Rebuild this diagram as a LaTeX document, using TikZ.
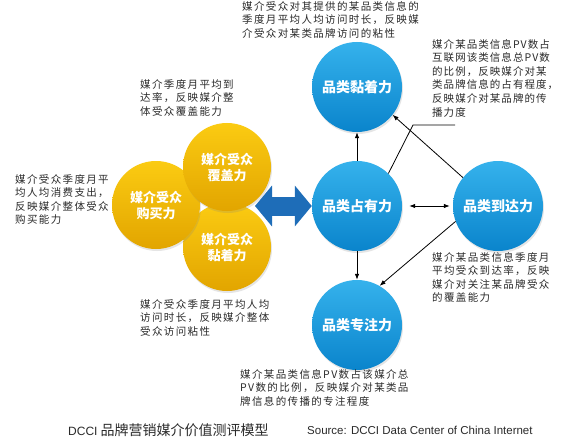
\documentclass[tikz,border=0pt]{standalone}
\usepackage{fontspec}
\usetikzlibrary{arrows.meta,shadows}
\setmainfont{Noto Sans CJK SC}
\newfontfamily\lat{Liberation Sans}
\definecolor{skytop}{HTML}{35B2EC}
\definecolor{skybot}{HTML}{0A84CC}
\definecolor{goldtop}{HTML}{FBCB12}
\definecolor{goldbot}{HTML}{E2A500}
\definecolor{linkblue}{HTML}{1E6DB8}
\definecolor{ink}{HTML}{2A2A2A}

\begin{document}
\begin{tikzpicture}[x=1pt,y=-1pt,every node/.style={font=\fontsize{10.5}{13.6}\selectfont\addfontfeature{LetterSpace=13}},
 sky/.style={circle,minimum size=90pt,inner sep=0pt,top color=skytop,bottom color=skybot,text=white,font=\fontsize{14}{16}\selectfont\bfseries,drop shadow={opacity=0.2,shadow xshift=1pt,shadow yshift=-2pt}},
 gold/.style={circle,minimum size=88pt,inner sep=0pt,top color=goldtop,bottom color=goldbot,text=white,align=center,font=\fontsize{13}{16}\selectfont\bfseries,drop shadow={opacity=0.2,shadow xshift=1pt,shadow yshift=-2pt}},
 note/.style={anchor=north west,inner sep=0pt,align=left,text=ink},
 lead/.style={-{Latex[length=6pt,width=4.5pt]},line width=0.8pt,black},
 bigarrow/.style={line width=19pt,linkblue,{Triangle[length=17pt,width=40pt]}-{Triangle[length=17pt,width=40pt]}}]
\fill[white] (0,0) rectangle (563,444);
\useasboundingbox (0,0) rectangle (563,444);

% media cluster
\node[gold] (mstick) at (227,247) {媒介受众\\黏着力};
\node[gold] (mbuy) at (156,205) {媒介受众\\购买力};
\node[gold] (mcover) at (227,167) {媒介受众\\覆盖力};

% category circles
\node[sky] (sticky) at (357,87) {品类黏着力};
\node[sky] (share) at (357,206) {品类占有力};
\node[sky] (reach) at (498,206) {品类到达力};
\node[sky] (focus) at (357,325) {品类专注力};

\coordinate (lt) at (255,206);
\draw[bigarrow] (lt) -- (share);

\draw[lead] (share) -- (sticky);
\draw[lead] (share) -- (focus);
\draw[lead,{Latex[length=6pt,width=4.5pt]}-{Latex[length=6pt,width=4.5pt]},shorten <=7pt,shorten >=3pt] (share) -- (reach);
\draw[lead] (reach.141) -- (sticky.-38);
\draw[lead] (reach.200) -- (focus.60);
\coordinate (elbow) at (413,125);
\coordinate (tail) at (455,125);
\draw[line width=0.8pt] (share.46) -- (elbow) -- (tail);

% notes
\node[note] (ntop) at (242,1) {媒介受众对其提供的某品类信息的\\季度月平均人均访问时长，反映媒\\介受众对某类品牌访问的粘性};
\node[note,font=\fontsize{10.5}{13.6}\selectfont\addfontfeature{LetterSpace=10}] (nright) at (432,39) {媒介某品类信息PV数占\\互联网该类信息总PV数\\的比例，反映媒介对某\\类品牌信息的占有程度，\\反映媒介对某品牌的传\\播力度};
\node[note] (ncover) at (140,79) {媒介季度月平均到\\达率，反映媒介整\\体受众覆盖能力};
\node[note] (nbuy) at (15,174) {媒介受众季度月平\\均人均消费支出，\\反映媒介整体受众\\购买能力};
\node[note] (nstick) at (140,299) {媒介受众季度月平均人均\\访问时长，反映媒介整体\\受众访问粘性};
\node[note] (nreach) at (432,252) {媒介某品类信息季度月\\平均受众到达率，反映\\媒介对关注某品牌受众\\的覆盖能力};
\node[note] (nfocus) at (240,369) {媒介某品类信息PV数占该媒介总\\PV数的比例，反映媒介对某类品\\牌信息的传播的专注程度};

% caption
\node[anchor=west,inner sep=0pt,text=ink,font=\fontsize{14}{16}\selectfont] (title) at (68,430) {{\lat\fontsize{12}{14}\selectfont DCCI} 品牌营销媒介价值测评模型};
\node[anchor=west,inner sep=0pt,text=ink,font=\lat\fontsize{11.5}{14}\selectfont] (source) at (307,430) {Source: DCCI Data Center of China Internet};
\end{tikzpicture}
\end{document}
